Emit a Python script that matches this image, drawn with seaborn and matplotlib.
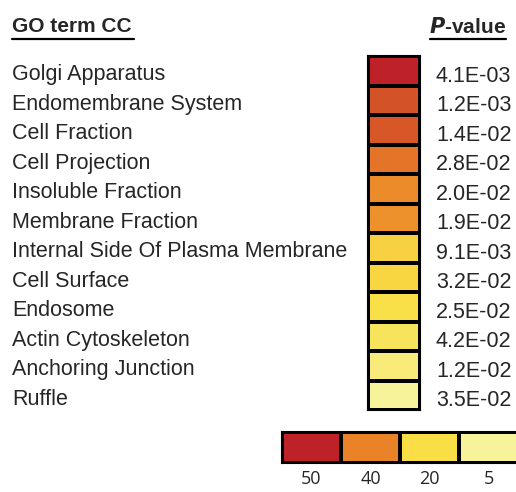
import matplotlib
matplotlib.use("Agg")
import matplotlib.pyplot as plt
import matplotlib.transforms as mtransforms
from matplotlib.colors import LinearSegmentedColormap
import numpy as np
import seaborn as sns

# GO cellular component terms, colour score and p-values
terms = ["Golgi Apparatus", "Endomembrane System", "Cell Fraction", "Cell Projection",
         "Insoluble Fraction", "Membrane Fraction", "Internal Side Of Plasma Membrane",
         "Cell Surface", "Endosome", "Actin Cytoskeleton", "Anchoring Junction", "Ruffle"]
scores = [50, 45, 44.5, 41.5, 38.5, 37, 23, 22, 19.5, 16, 11, 5]
pvalues = ["4.1E-03", "1.2E-03", "1.4E-02", "2.8E-02", "2.0E-02", "1.9E-02",
           "9.1E-03", "3.2E-02", "2.5E-02", "4.2E-02", "1.2E-02", "3.5E-02"]

legend_values = [50, 40, 20, 5]
legend_colors = ["#F7F39B", "#F9DF45", "#EB8428", "#BE2127"]  # for 5, 20, 40, 50

vmin, vmax = 5, 50
anchors = [(v - vmin) / (vmax - vmin) for v in [5, 20, 40, 50]]
cmap = LinearSegmentedColormap.from_list("go", list(zip(anchors, legend_colors)))

sns.set_style("white")
plt.rcParams["font.family"] = ["Liberation Sans", "DejaVu Sans"]

W, H = 516, 492
fig = plt.figure(figsize=(W / 100, H / 100), dpi=100)

# main column of cells
ax = fig.add_axes([368 / W, 1 - 410 / H, 52 / W, 354 / H])
sns.heatmap(np.array(scores).reshape(-1, 1), ax=ax, cmap=cmap, vmin=vmin, vmax=vmax,
            cbar=False, linewidths=1.5, linecolor="black", square=False)
ax.set_xticks([])
ax.set_yticks([])
for s in ax.spines.values():
    s.set_visible(True)
    s.set_linewidth(1.5)
    s.set_color("black")

tr = mtransforms.blended_transform_factory(fig.transFigure, ax.transData)
for i, (t, p) in enumerate(zip(terms, pvalues)):
    ax.text(12 / W, i + 0.63, t, transform=tr, ha="left", va="center", fontsize=15.5)
    ax.text(436 / W, i + 0.68, p, transform=tr, ha="left", va="center", fontsize=15.5)

fig.text(12 / W, 1 - 27 / H, "GO term CC", ha="left", va="center",
         fontsize=15, fontweight="bold")
fig.text(506 / W, 1 - 27 / H, r"$\bfit{P}$" + "-value", ha="right", va="center",
         fontsize=15, fontweight="bold")
fig.add_artist(plt.Line2D([12 / W, 134 / W], [1 - 38.5 / H, 1 - 38.5 / H], color="black", lw=1.6))
fig.add_artist(plt.Line2D([430 / W, 506 / W], [1 - 38.5 / H, 1 - 38.5 / H], color="black", lw=1.6))

# colour key
lax = fig.add_axes([282 / W, 1 - 463 / H, 236 / W, 31 / H])
sns.heatmap(np.array(legend_values).reshape(1, -1), ax=lax, cmap=cmap, vmin=vmin, vmax=vmax,
            cbar=False, linewidths=1.5, linecolor="black")
lax.set_yticks([])
lax.set_xticks(np.arange(len(legend_values)) + 0.5)
lax.set_xticklabels([str(v) for v in legend_values], fontsize=13, family="Open Sans")
lax.tick_params(axis="x", length=0, pad=5)
for s in lax.spines.values():
    s.set_visible(True)
    s.set_linewidth(1.5)
    s.set_color("black")

fig.savefig("out.png", dpi=100)
